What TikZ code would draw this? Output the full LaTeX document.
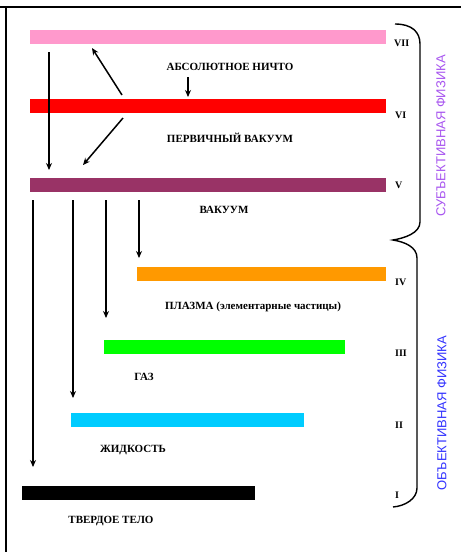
\documentclass[tikz,border=0pt]{standalone}
\usepackage{fontspec}
\setmainfont{Liberation Serif}
\newfontfamily\sansf{Liberation Sans}
\usetikzlibrary{arrows.meta}
\definecolor{c7}{HTML}{FF99CC}
\definecolor{c6}{HTML}{FF0000}
\definecolor{c5}{HTML}{993366}
\definecolor{c4}{HTML}{FF9900}
\definecolor{c3}{HTML}{00FF00}
\definecolor{c2}{HTML}{00CCFF}
\definecolor{c1}{HTML}{000000}
\definecolor{subjc}{HTML}{A855F0}
\definecolor{objc}{HTML}{3333FF}
\tikzset{
  bar/.style={draw=none, inner sep=0pt, outer sep=0pt, minimum height=14pt, anchor=north west},
  lbl/.style={font=\bfseries\fontsize{11}{13}\selectfont, inner sep=0pt},
  num/.style={font=\bfseries\fontsize{10}{12}\selectfont, inner sep=0pt, anchor=west},
  side/.style={font=\sansf\fontsize{13}{15}\selectfont, inner sep=0pt, rotate=90},
  arr/.style={line width=1.5pt, -{Stealth[length=7pt,width=6pt]}},
  frame/.style={line width=2pt},
  brace/.style={line width=1.4pt}
}
\begin{document}
\begin{tikzpicture}[x=1pt,y=-1pt]
\useasboundingbox (0,0) rectangle (461,552);
\fill[white] (0,0) rectangle (461,552);
% frame
\draw[frame] (0,7) -- (461,7);
\draw[frame] (6,7) -- (6,552);
% bars
\node[bar, fill=c7, minimum width=356pt] (b7) at (30,30) {};
\node[bar, fill=c6, minimum width=356pt] (b6) at (30,99) {};
\node[bar, fill=c5, minimum width=356pt] (b5) at (30,178) {};
\node[bar, fill=c4, minimum width=249pt] (b4) at (137,267) {};
\node[bar, fill=c3, minimum width=241pt] (b3) at (104,340) {};
\node[bar, fill=c2, minimum width=233pt] (b2) at (71,413) {};
\node[bar, fill=c1, minimum width=233pt] (b1) at (22,486) {};
% roman numerals
\node[num] (n7) at (394,43) {VII};
\node[num] (n6) at (395,115) {VI};
\node[num] (n5) at (395,185) {V};
\node[num] (n4) at (395,282) {IV};
\node[num] (n3) at (395,353) {III};
\node[num] (n2) at (395,425) {II};
\node[num] (n1) at (395,495) {I};
% labels
\node[lbl] (l7) at (230,67) {АБСОЛЮТНОЕ НИЧТО};
\node[lbl] (l6) at (230,138) {ПЕРВИЧНЫЙ ВАКУУМ};
\node[lbl] (l5) at (224,210) {ВАКУУМ};
\node[lbl] (l4) at (253,307) {ПЛАЗМА (элементарные частицы)};
\node[lbl] (l3) at (144,377) {ГАЗ};
\node[lbl] (l2) at (133,450) {ЖИДКОСТЬ};
\node[lbl] (l1) at (111,521) {ТВЕРДОЕ ТЕЛО};
% side texts
\node[side, text=subjc] (s1) at (441,136) {СУБЪЕКТИВНАЯ ФИЗИКА};
\node[side, text=objc] (s2) at (442,413) {ОБЪЕКТИВНАЯ ФИЗИКА};
% arrow endpoints
\coordinate (a1s) at (49,52);   \coordinate (a1e) at (49,170);
\coordinate (a2s) at (122,95);  \coordinate (a2e) at (92,48);
\coordinate (a3s) at (188,77);  \coordinate (a3e) at (188,97);
\coordinate (a4s) at (123,118); \coordinate (a4e) at (83,165);
\coordinate (d1s) at (33,200);  \coordinate (d1e) at (33,467);
\coordinate (d2s) at (73,200);  \coordinate (d2e) at (73,398);
\coordinate (d3s) at (106,200); \coordinate (d3e) at (106,318);
\coordinate (d4s) at (139,200); \coordinate (d4e) at (139,258);
\draw[arr] (a1s) -- (a1e);
\draw[arr] (a2s) -- (a2e);
\draw[arr] (a3s) -- (a3e);
\draw[arr] (a4s) -- (a4e);
\draw[arr] (d1s) -- (d1e);
\draw[arr] (d2s) -- (d2e);
\draw[arr] (d3s) -- (d3e);
\draw[arr] (d4s) -- (d4e);
% brace
\coordinate (bt) at (395,24);
\coordinate (bm) at (393,240);
\coordinate (bb) at (393,507);
\draw[brace] (bt) .. controls (412,24) and (420,32) .. (420,44) -- (420,222)
  .. controls (420,233) and (405,238) .. (bm)
  .. controls (405,242) and (417,247) .. (417,258) -- (417,488)
  .. controls (417,499) and (405,506) .. (bb);
\end{tikzpicture}
\end{document}
